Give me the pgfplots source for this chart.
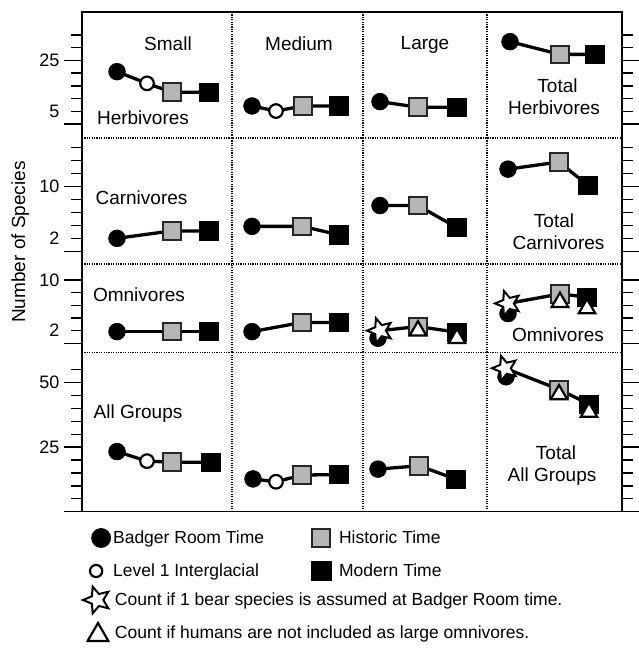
\documentclass[border=0pt]{standalone}
\usepackage{fontspec}
\setmainfont{Liberation Sans}
\usepackage{pgfplots}
\pgfplotsset{compat=1.18}
\usetikzlibrary{plotmarks}
\definecolor{histgray}{RGB}{181,181,181}
\newcommand\pf{\fontsize{19}{22}\selectfont}
\newcommand\lf{\fontsize{17.5}{20}\selectfont}
\makeatletter
\pgfdeclareplotmark{bstar}{%
  \pgfpathmoveto{\pgfpointpolar{180}{\pgfplotmarksize}}%
  \pgfpathlineto{\pgfpointscale{0.45}{\pgfpointpolar{216}{\pgfplotmarksize}}}%
  \pgfpathlineto{\pgfpointpolar{252}{\pgfplotmarksize}}%
  \pgfpathlineto{\pgfpointscale{0.45}{\pgfpointpolar{288}{\pgfplotmarksize}}}%
  \pgfpathlineto{\pgfpointpolar{324}{\pgfplotmarksize}}%
  \pgfpathlineto{\pgfpointscale{0.45}{\pgfpointpolar{0}{\pgfplotmarksize}}}%
  \pgfpathlineto{\pgfpointpolar{36}{\pgfplotmarksize}}%
  \pgfpathlineto{\pgfpointscale{0.45}{\pgfpointpolar{72}{\pgfplotmarksize}}}%
  \pgfpathlineto{\pgfpointpolar{108}{\pgfplotmarksize}}%
  \pgfpathlineto{\pgfpointscale{0.45}{\pgfpointpolar{144}{\pgfplotmarksize}}}%
  \pgfpathclose
  \pgfusepathqfillstroke
}
\makeatother
\pgfplotsset{
  rowax/.style={
    scale only axis, width=540pt, xmin=0, xmax=540, anchor=south west, clip=false,
    xtick=\empty,
    extra x ticks={150,281,405}, extra x tick labels={},
    extra x tick style={grid=major, major tick length=0pt},
    major grid style={black, line width=1.1pt, dash pattern=on 1.1pt off 1.3pt},
    axis line style={draw=none},
    tick align=outside, ytick pos=both, yticklabel pos=left,
    major tick length=11pt,
    tick style={black, line width=1.4pt},
    yticklabel style={font=\fontsize{18}{20}\selectfont, xshift=-8pt},
    extra y tick style={major tick length=18pt},
    extra y tick labels={},
    /pgf/number format/assume math mode=true,
  },
  conn/.style={black, line width=3.3pt, no marks},
  bdg/.style={only marks, mark=*, mark size=8.4pt, mark options={draw=black, fill=black, line width=0.6pt, solid}},
  lv1/.style={only marks, mark=*, mark size=6.8pt, mark options={draw=black, fill=white, line width=2.2pt, solid}},
  hst/.style={only marks, mark=square*, mark size=8.8pt, mark options={draw=black!85, fill=histgray, line width=2pt, solid}},
  mdn/.style={only marks, mark=square*, mark size=9.2pt, mark options={draw=black, fill=black, line width=0.8pt, solid}},
  bst/.style={only marks, mark=bstar, mark size=13pt, mark options={draw=black, fill=white, line width=2pt, solid}},
  tri/.style={only marks, mark=triangle*, mark size=9.5pt, mark options={draw=black, fill=white, line width=2.2pt, solid}},
  legax/.style={at={(0pt,0pt)}, anchor=south west, scale only axis, width=639pt, height=654pt,
    hide axis, xmin=0, xmax=1, ymin=0, ymax=1, legend cell align=left},
}
\begin{document}
\begin{tikzpicture}
\path[use as bounding box] (0,0) rectangle (639pt,654pt);
% Row 1: Herbivores
\begin{axis}[rowax, at={(82pt,516pt)}, height=126pt, ymin=-5.51, ymax=44.09,
  ytick={0,5,...,35}, yticklabels={,5,,,,25,,}, extra y ticks={0,25}]
\addplot[conn] coordinates {(35,20.6) (65,16) (90,12.5) (127,12.5)};
\addplot[conn] coordinates {(170,7.1) (194,5.1) (221,7.1) (257,7.1)};
\addplot[conn] coordinates {(298,8.8) (336,6.6) (375,6.6)};
\addplot[conn] coordinates {(428,32.4) (478,27.4) (513,27.4)};
\addplot[bdg] coordinates {(35,20.6) (170,7.1) (298,8.8) (428,32.4)};
\addplot[lv1] coordinates {(65,16) (194,5.1)};
\addplot[hst] coordinates {(90,12.5) (221,7.1) (336,6.6) (478,27.4)};
\addplot[mdn] coordinates {(127,12.5) (257,7.1) (375,6.6) (513,27.4)};
\end{axis}
% Row 2: Carnivores
\begin{axis}[rowax, at={(82pt,390pt)}, height=126pt, ymin=-1.89, ymax=17.49,
  ytick={0,2,...,16}, yticklabels={,2,,,,10,,,}, extra y ticks={0,10}]
\addplot[conn] coordinates {(35,2.06) (90,3.2) (127,3.2)};
\addplot[conn] coordinates {(170,3.9) (220,3.9) (257,2.6)};
\addplot[conn] coordinates {(298,7.1) (336,7.1) (375,3.7)};
\addplot[conn] coordinates {(426,12.7) (477,13.8) (506,10.2)};
\addplot[bdg] coordinates {(35,2.06) (170,3.9) (298,7.1) (426,12.7)};
\addplot[hst] coordinates {(90,3.2) (220,3.9) (336,7.1) (477,13.8)};
\addplot[mdn] coordinates {(127,3.2) (257,2.6) (375,3.7) (506,10.2)};
\end{axis}
% Row 3: Omnivores
\begin{axis}[rowax, at={(82pt,301.5pt)}, height=88.5pt, ymin=-1.45, ymax=12.53,
  ytick={0,2,...,10}, yticklabels={,2,,,,10}, extra y ticks={0,10}]
\addplot[conn] coordinates {(35,1.85) (90,1.85) (127,1.85)};
\addplot[conn] coordinates {(170,1.85) (220,3.3) (257,3.3)};
\addplot[conn] coordinates {(298,2.0) (336,2.65) (375,1.75)};
\addplot[conn] coordinates {(426,6.3) (478,7.8) (505,7.3)};
\addplot[bdg] coordinates {(35,1.85) (170,1.85) (296,0.8) (426,4.7)};
\addplot[bst] coordinates {(298,2.0) (426,6.3)};
\addplot[hst] coordinates {(90,1.85) (220,3.3) (336,2.65) (478,7.8)};
\addplot[mdn] coordinates {(127,1.85) (257,3.3) (375,1.75) (505,7.3)};
\addplot[tri] coordinates {(336,2.0) (375,0.8) (478,6.5) (505,5.5)};
\end{axis}
% Row 4: All groups
\begin{axis}[rowax, at={(82pt,142.3pt)}, height=159.2pt, ymin=0, ymax=61.7,
  ytick={0,5,...,55}, yticklabels={,,,,,25,,,,,50,}, extra y ticks={0,25,50}]
\addplot[conn] coordinates {(35,23.3) (65,19.6) (90,19.2) (129,19.2)};
\addplot[conn] coordinates {(171,12.7) (194,11.6) (220,14.2) (257,14.4)};
\addplot[conn] coordinates {(296,16.5) (337,17.8) (374,12.6)};
\addplot[conn] coordinates {(423,55.6) (477,47.4) (507,41.7)};
\addplot[bdg] coordinates {(35,23.3) (171,12.7) (296,16.5) (424,52.3)};
\addplot[bst] coordinates {(423,55.6)};
\addplot[lv1] coordinates {(65,19.6) (194,11.6)};
\addplot[hst] coordinates {(90,19.2) (220,14.2) (337,17.8) (477,47.4)};
\addplot[mdn] coordinates {(129,19.2) (257,14.4) (374,12.6) (507,41.7)};
\addplot[tri] coordinates {(477,45.4) (507,38.6)};
\end{axis}
% frame and row dividers
\draw[line width=1.5pt] (82pt,142.3pt) rectangle (622pt,642pt);
\foreach \yy in {516,390,301.5}{
  \draw[black, line width=1.1pt, dash pattern=on 1.1pt off 1.3pt] (82pt,\yy pt) -- (622pt,\yy pt);}
% panel labels
\begin{scope}[every node/.style={font=\pf, anchor=base, inner sep=0pt}]
\node at (168pt,603pt) {Small};
\node at (299pt,603pt) {Medium};
\node at (425pt,604pt) {Large};
\node at (143pt,529pt) {Herbivores};
\node at (557.5pt,561pt) {Total};
\node at (554pt,539pt) {Herbivores};
\node at (141.5pt,449pt) {Carnivores};
\node at (554pt,426pt) {Total};
\node at (558.5pt,404pt) {Carnivores};
\node at (139pt,352pt) {Omnivores};
\node at (558pt,312pt) {Omnivores};
\node at (138pt,235.7pt) {All Groups};
\node at (556pt,194pt) {Total};
\node at (552pt,172pt) {All Groups};
\node[rotate=90] at (25pt,412pt) {Number of Species};
\end{scope}
% legend part 1
\begin{axis}[legax, legend columns=2,
  legend style={at={(0.14085,0.19266)}, anchor=north west, draw=none, fill=none,
    inner sep=0pt, outer sep=0pt, row sep=13pt, column sep=0pt, font=\lf,
    nodes={inner xsep=2pt, inner ysep=1pt, text depth=0.15em}}]
\addlegendimage{legend image code/.code={\path[draw=none, fill=none] (0pt,-10pt) rectangle (20pt,10pt);
  \draw[black, fill=black, line width=0.6pt, mark=*, mark size=9.6pt, only marks] plot coordinates {(10pt,0pt)};}}
\addlegendentry{\makebox[196pt][l]{Badger Room Time}}
\addlegendimage{legend image code/.code={\path[draw=none, fill=none] (0pt,-10pt) rectangle (26pt,10pt);
  \draw[black!85, fill=histgray, line width=2pt, mark=square*, mark size=9.3pt, only marks] plot coordinates {(10pt,0pt)};}}
\addlegendentry{Historic Time}
\addlegendimage{legend image code/.code={\path[draw=none, fill=none] (0pt,-10pt) rectangle (20pt,10pt);
  \draw[black, fill=white, line width=2.2pt, mark=*, mark size=6.1pt, only marks] plot coordinates {(5pt,0pt)};}}
\addlegendentry{\makebox[196pt][l]{Level 1 Interglacial}}
\addlegendimage{legend image code/.code={\path[draw=none, fill=none] (0pt,-10pt) rectangle (26pt,10pt);
  \draw[black, fill=black, line width=0.8pt, mark=square*, mark size=9.8pt, only marks] plot coordinates {(10pt,0pt)};}}
\addlegendentry{Modern Time}
\end{axis}
% legend part 2
\begin{axis}[legax, legend columns=1,
  legend style={at={(0.12989,0.10398)}, anchor=north west, draw=none, fill=none,
    inner sep=0pt, outer sep=0pt, row sep=5pt, column sep=0pt, font=\lf,
    nodes={inner xsep=2pt, inner ysep=1pt, text depth=0.15em}}]
\addlegendimage{legend image code/.code={\path[draw=none, fill=none] (0pt,-14pt) rectangle (28pt,14pt);
  \draw[black, fill=white, line width=2pt, mark=bstar, mark size=14pt, only marks] plot coordinates {(12pt,0pt)};}}
\addlegendentry{Count if 1 bear species is assumed at Badger Room time.}
\addlegendimage{legend image code/.code={\path[draw=none, fill=none] (0pt,-14pt) rectangle (28pt,14pt);
  \draw[black, fill=white, line width=2.2pt, mark=triangle*, mark size=12pt, only marks] plot coordinates {(13pt,-2pt)};}}
\addlegendentry{Count if humans are not included as large omnivores.}
\end{axis}
\end{tikzpicture}
\end{document}
